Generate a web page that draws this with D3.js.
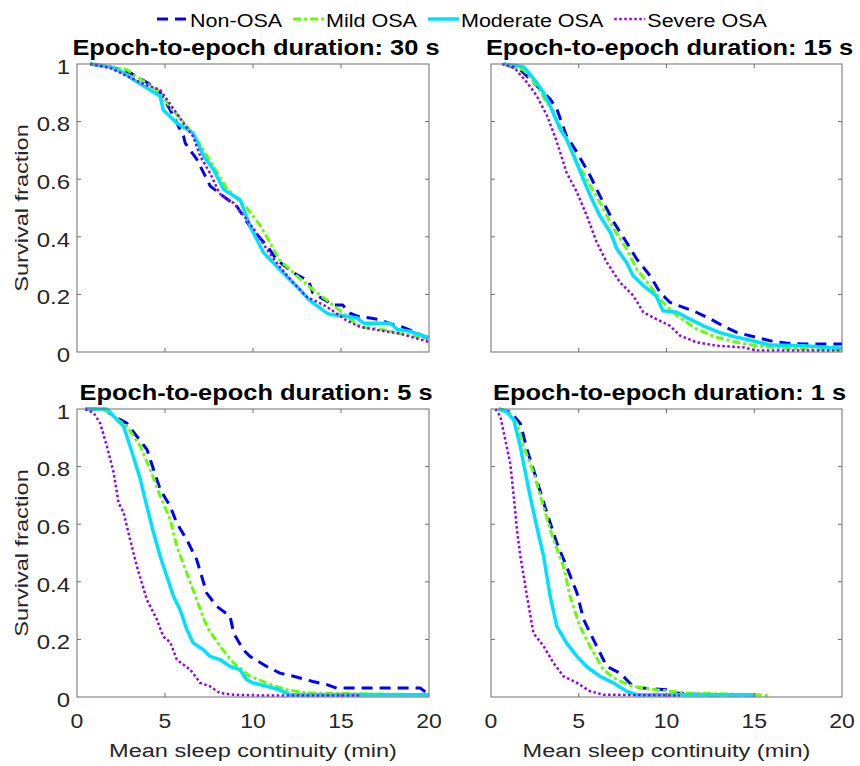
<!DOCTYPE html>
<html>
<head>
<meta charset="utf-8">
<script src="https://cdn.jsdelivr.net/npm/d3@7"></script>
<style>
  body { margin: 0; background: #fff; }
  text { font-family: "Liberation Sans", Arial, sans-serif; }
</style>
</head>
<body>
<div id="chart"></div>
<script>
// group names + colours
var groups = ["Non-OSA", "Mild OSA", "Moderate OSA", "Severe OSA"];
var colors = ["#0000ff", "#66ff00", "#00e1ff", "#8f00ff"];

var titles = ["Epoch-to-epoch duration: 30 s", "Epoch-to-epoch duration: 15 s",
              "Epoch-to-epoch duration: 5 s", "Epoch-to-epoch duration: 1 s"];

var xTicks = [0, 5, 10, 15, 20];
var yTicks = [0, 0.2, 0.4, 0.6, 0.8, 1];

// survival curves, [minutes, fraction]
// 30 s
var non30 = [[0.75,1],[1.9,0.99],[3.0,0.97],[4.0,0.935],[4.73,0.9],[5.3,0.84],[6.05,0.75],[6.15,0.725],[6.8,0.67],[7.57,0.576],[8.33,0.54],[9.08,0.506],[9.84,0.435],[10.8,0.368],[11.35,0.32],[12.3,0.275],[13.05,0.25],[13.2,0.24],[13.4,0.205],[14.57,0.163],[15.1,0.163],[15.5,0.135],[15.9,0.125],[16.65,0.118],[17.2,0.112],[17.97,0.095],[18.35,0.09],[19.1,0.072],[19.5,0.06],[20,0.045]];
var mild30 = [[0.75,1],[2.84,0.98],[4.73,0.9],[5.3,0.85],[6.24,0.785],[7.0,0.72],[7.95,0.625],[8.5,0.568],[9.65,0.5],[10.4,0.44],[10.97,0.38],[11.5,0.32],[12.3,0.275],[13.4,0.216],[14.2,0.18],[15.1,0.135],[16.1,0.087],[17.2,0.08],[18.35,0.064],[20,0.045]];
var mod30 = [[0.75,1],[1.9,0.99],[2.65,0.969],[3.2,0.946],[4.73,0.888],[4.9,0.84],[5.67,0.795],[6.6,0.76],[7.2,0.68],[7.76,0.633],[8.33,0.564],[9.27,0.529],[9.84,0.436],[10.6,0.345],[11.16,0.31],[11.9,0.263],[12.68,0.216],[13.2,0.18],[14.2,0.135],[14.4,0.13],[15.3,0.124],[15.9,0.118],[16.3,0.1],[17.8,0.1],[18.2,0.078],[18.9,0.072],[20,0.05]];
var sev30 = [[0.75,1],[1.9,0.986],[3.8,0.93],[4.73,0.91],[5.3,0.86],[6.05,0.795],[6.6,0.748],[7.0,0.68],[7.57,0.62],[8.1,0.55],[8.9,0.517],[9.65,0.46],[10.2,0.413],[10.8,0.355],[11.5,0.297],[12.3,0.24],[13.05,0.192],[14.2,0.157],[15.3,0.11],[16.1,0.087],[17.2,0.075],[18.35,0.064],[20,0.035]];
// 15 s
var non15 = [[0.72,1],[1.67,0.98],[2.6,0.925],[3.37,0.878],[3.75,0.844],[4.3,0.75],[4.9,0.693],[5.65,0.612],[6.2,0.543],[7.0,0.45],[7.73,0.38],[8.3,0.323],[9.06,0.265],[9.63,0.207],[10.2,0.172],[10.96,0.155],[11.7,0.138],[12.5,0.115],[13.2,0.091],[14.0,0.068],[15.1,0.051],[15.9,0.039],[16.8,0.031],[17.8,0.028],[20,0.028]];
var mild15 = [[0.72,1],[1.86,0.98],[2.6,0.925],[3.56,0.83],[4.3,0.74],[4.9,0.66],[5.65,0.578],[6.2,0.52],[7.0,0.427],[7.73,0.358],[8.3,0.288],[9.06,0.23],[9.8,0.172],[10.6,0.126],[11.7,0.08],[12.85,0.051],[14.0,0.034],[15.1,0.022],[16.6,0.013],[20,0.008]];
var mod15 = [[0.72,1],[1.86,0.99],[2.6,0.936],[3.0,0.9],[3.37,0.855],[3.94,0.774],[4.3,0.74],[4.7,0.682],[5.27,0.6],[5.65,0.543],[6.2,0.473],[6.8,0.416],[7.17,0.358],[7.73,0.311],[8.1,0.265],[8.7,0.23],[9.4,0.196],[9.8,0.143],[10.6,0.138],[11.3,0.115],[12.1,0.091],[13.0,0.068],[14.0,0.051],[14.9,0.039],[15.9,0.024],[17.8,0.022],[20,0.013]];
var sev15 = [[0.63,1],[1.29,0.99],[2.05,0.936],[2.6,0.89],[3.2,0.82],[3.75,0.73],[4.3,0.624],[4.9,0.554],[5.46,0.473],[6.03,0.38],[6.6,0.311],[7.35,0.242],[8.1,0.196],[8.68,0.138],[9.4,0.115],[10.2,0.091],[10.77,0.057],[11.7,0.034],[12.85,0.022],[14.4,0.016],[15.1,0.005],[20,0.005]];
// 5 s
var non5 = [[0.47,1],[1.5,1],[2.46,0.963],[2.84,0.95],[3.4,0.905],[3.97,0.86],[4.35,0.79],[4.73,0.72],[5.3,0.662],[5.67,0.604],[6.24,0.546],[6.8,0.477],[7.37,0.361],[7.94,0.315],[8.7,0.28],[8.9,0.222],[9.45,0.164],[9.83,0.141],[10.78,0.106],[11.53,0.083],[12.3,0.072],[13.4,0.054],[14.2,0.043],[14.75,0.031],[19.5,0.031],[20,0.008]];
var mild5 = [[0.47,1],[1.5,1],[2.84,0.94],[3.6,0.87],[4.16,0.79],[4.73,0.697],[5.3,0.616],[5.67,0.523],[6.24,0.43],[6.8,0.338],[7.37,0.245],[8.13,0.176],[8.9,0.118],[9.83,0.072],[10.78,0.049],[11.9,0.025],[13.05,0.014],[20,0.008]];
var mod5 = [[0.47,1],[1.7,1],[2.27,0.963],[2.65,0.94],[3.2,0.835],[3.6,0.755],[3.97,0.662],[4.35,0.57],[4.73,0.488],[5.1,0.419],[5.48,0.35],[5.86,0.303],[6.24,0.234],[6.6,0.188],[7.18,0.164],[7.56,0.141],[8.13,0.13],[8.7,0.106],[9.26,0.095],[9.64,0.06],[10.0,0.049],[10.8,0.037],[11.5,0.025],[12.1,0.008],[20,0.008]];
var sev5 = [[0.47,1],[0.95,0.986],[1.32,0.95],[1.7,0.87],[2.08,0.78],[2.36,0.674],[2.65,0.64],[3.02,0.546],[3.4,0.454],[3.97,0.338],[4.54,0.269],[4.9,0.21],[5.3,0.19],[5.67,0.13],[6.43,0.095],[7.0,0.049],[7.56,0.037],[8.1,0.014],[8.9,0.008],[10.4,0.005],[16.1,0.005]];
// 1 s
var non1 = [[0.44,1],[1.1,0.99],[1.67,0.95],[2.05,0.86],[2.6,0.755],[3.18,0.64],[3.75,0.535],[4.3,0.454],[4.9,0.361],[5.27,0.27],[5.83,0.2],[6.6,0.106],[7.35,0.083],[8.1,0.037],[8.67,0.031],[10.0,0.025],[10.57,0.014],[12.1,0.008],[15.1,0.008]];
var mild1 = [[0.44,1],[1.0,0.99],[1.48,0.95],[1.86,0.87],[2.42,0.78],[3.0,0.66],[3.56,0.546],[4.13,0.454],[4.5,0.35],[5.07,0.245],[5.64,0.176],[6.4,0.095],[7.16,0.06],[8.1,0.037],[9.43,0.025],[11.1,0.014],[15.1,0.008],[15.87,0.005]];
var mod1 = [[0.44,1],[0.9,0.99],[1.29,0.963],[1.67,0.87],[1.86,0.81],[2.23,0.697],[2.6,0.593],[3.0,0.488],[3.37,0.35],[3.75,0.245],[4.3,0.188],[4.9,0.141],[5.45,0.106],[6.2,0.072],[6.97,0.049],[7.73,0.02],[8.3,0.008],[15.0,0.008]];
var sev1 = [[0.25,1],[0.53,0.975],[0.81,0.894],[1.1,0.81],[1.29,0.7],[1.48,0.58],[1.67,0.49],[2.05,0.35],[2.42,0.222],[3.0,0.176],[3.56,0.118],[4.13,0.072],[4.9,0.049],[5.64,0.02],[6.4,0.008],[10.76,0.005]];

var curves = [
    [non30, mild30, mod30, sev30],
    [non15, mild15, mod15, sev15],
    [non5, mild5, mod5, sev5],
    [non1, mild1, mod1, sev1]
];

var width = 860, height = 766;
var textCol = "#262626", axisCol = "#6e6e6e";

// line styles per group (Matlab '--', '-.', '-', ':')
var dashes = ["11,7", "8,3,3,3", null, "2.5,2.5"];
var widths = [3, 3, 3.5, 2.5];

// panel boxes
var panels = [
    {left: 77, top: 64, right: 429, bottom: 352},
    {left: 491, top: 64, right: 842, bottom: 352},
    {left: 77, top: 409, right: 429, bottom: 697},
    {left: 491, top: 409, right: 842, bottom: 697}
];

// the figure's font is wider than Liberation Sans: put text in a group
// and stretch it along the writing direction
function label(parent, x, y, rot, k) {
    var tr = "translate(" + x + "," + y + ")" + (rot ? " rotate(" + rot + ")" : "") + " scale(" + k + ",1)";
    return parent.append("g").attr("transform", tr).append("text");
}

var svg = d3.select("#chart")
    .append("svg")
    .attr("width", width)
    .attr("height", height);

panels.forEach(function(p, i) {
    var x = d3.scaleLinear().domain([0, 20]).range([p.left, p.right]);
    var y = d3.scaleLinear().domain([0, 1]).range([p.bottom, p.top]);
    var g = svg.append("g");

    var line = d3.line()
        .x(function(d) { return x(d[0]); })
        .y(function(d) { return y(d[1]); });

    curves[i].forEach(function(c, j) {
        g.append("path")
            .datum(c)
            .attr("d", line)
            .attr("fill", "none")
            .attr("stroke", colors[j])
            .attr("stroke-width", widths[j])
            .attr("stroke-dasharray", dashes[j])
            .attr("stroke-linejoin", "round");
    });

    // box
    g.append("rect")
        .attr("x", p.left).attr("y", p.top)
        .attr("width", p.right - p.left).attr("height", p.bottom - p.top)
        .attr("fill", "none").attr("stroke", axisCol).attr("stroke-width", 1);

    // inward ticks on all four sides
    var tl = 4;
    g.selectAll(".xt").data(xTicks.slice(1, -1)).enter().append("path")
        .attr("d", function(d) {
            return "M" + x(d) + "," + p.bottom + "v" + (-tl) + "M" + x(d) + "," + p.top + "v" + tl;
        })
        .attr("stroke", axisCol);
    g.selectAll(".yt").data(yTicks.slice(1, -1)).enter().append("path")
        .attr("d", function(d) {
            return "M" + p.left + "," + y(d) + "h" + tl + "M" + p.right + "," + y(d) + "h" + (-tl);
        })
        .attr("stroke", axisCol);

    // title
    label(g, (p.left + p.right) / 2 + 3, p.top - 9, 0, 1.13)
        .attr("text-anchor", "middle")
        .attr("font-size", 22.5)
        .attr("font-weight", "bold")
        .attr("fill", "#000")
        .text(titles[i]);

    if (i % 2 === 0) {
        yTicks.forEach(function(d) {
            label(g, p.left - 7, y(d) + 3, 0, 1.2)
                .attr("dominant-baseline", "central")
                .attr("text-anchor", "end")
                .attr("font-size", 20)
                .attr("fill", textCol)
                .text(d3.format("~g")(d));
        });

        label(g, 28, (p.top + p.bottom) / 2, -90, 1.24)
            .attr("text-anchor", "middle")
            .attr("font-size", 19)
            .attr("fill", textCol)
            .text("Survival fraction");
    }

    if (i >= 2) {
        xTicks.forEach(function(d) {
            label(g, x(d), p.bottom + 31, 0, 1.15)
                .attr("text-anchor", "middle")
                .attr("font-size", 20)
                .attr("fill", textCol)
                .text(d);
        });

        label(g, (p.left + p.right) / 2, p.bottom + 60, 0, 1.24)
            .attr("text-anchor", "middle")
            .attr("font-size", 19)
            .attr("fill", textCol)
            .text("Mean sleep continuity (min)");
    }
});

// legend across the top
var legend = svg.append("g");
var lx = 157, kl = 1.23;
groups.forEach(function(name, j) {
    legend.append("line")
        .attr("x1", lx).attr("x2", lx + 31)
        .attr("y1", 19).attr("y2", 19)
        .attr("stroke", colors[j])
        .attr("stroke-width", widths[j])
        .attr("stroke-dasharray", dashes[j]);
    var t = label(legend, lx + 33, 26.5, 0, kl)
        .attr("font-size", 17.5)
        .attr("fill", "#000")
        .text(name);
    lx = lx + 33 + t.node().getComputedTextLength() * kl + 11;
});
</script>
</body>
</html>
